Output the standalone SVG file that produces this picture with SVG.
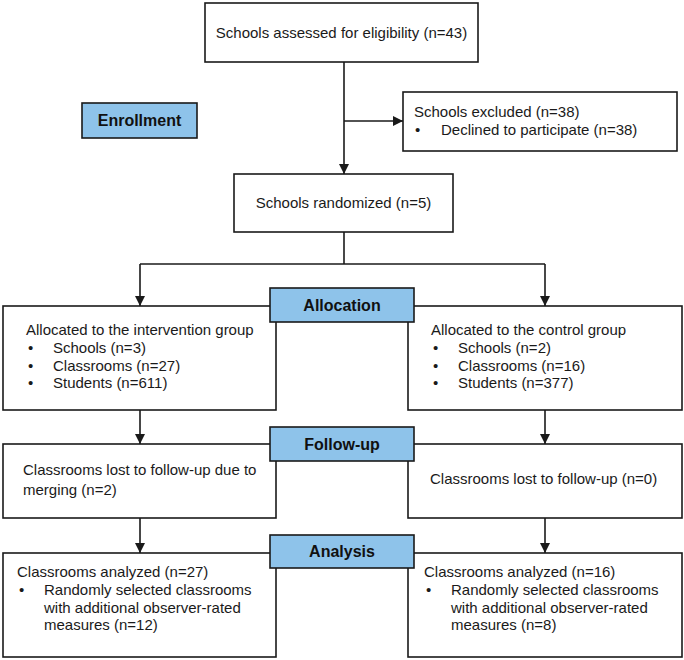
<svg xmlns="http://www.w3.org/2000/svg" width="684" height="660" viewBox="0 0 684 660">
  <style>
    .box { fill: #ffffff; stroke: #1a1a1a; stroke-width: 1.6; }
    .stage { fill: #8ec3ea; stroke: #1a1a1a; stroke-width: 1.6; }
    .t { font-family: "Liberation Sans", Arial, sans-serif; font-size: 15px; fill: #1a1a1a; }
    .st { font-family: "Liberation Sans", Arial, sans-serif; font-size: 16px; font-weight: bold; fill: #111111; text-anchor: middle; }
    .c { text-anchor: middle; }
    .link { fill: none; stroke: #1a1a1a; stroke-width: 1.6; }
  </style>
  <defs>
    <marker id="arrow" viewBox="0 0 10 10" refX="10" refY="5" markerWidth="6.5" markerHeight="6.5" markerUnits="strokeWidth" orient="auto">
      <path d="M0,0 L10,5 L0,10 Z" fill="#1a1a1a"/>
    </marker>
  </defs>

  <rect width="684" height="660" fill="#ffffff"/>

  <!-- connectors -->
  <g id="connectors">
    <line class="link" x1="344" y1="62" x2="344" y2="174" marker-end="url(#arrow)"/>
    <line class="link" x1="344" y1="121" x2="403" y2="121" marker-end="url(#arrow)"/>
    <polyline class="link" points="344,232 344,264"/>
    <polyline class="link" points="140,264 545,264"/>
    <line class="link" x1="140" y1="264" x2="140" y2="306" marker-end="url(#arrow)"/>
    <line class="link" x1="545" y1="264" x2="545" y2="306" marker-end="url(#arrow)"/>
    <line class="link" x1="140" y1="410" x2="140" y2="444" marker-end="url(#arrow)"/>
    <line class="link" x1="545" y1="410" x2="545" y2="444" marker-end="url(#arrow)"/>
    <line class="link" x1="140" y1="518" x2="140" y2="553" marker-end="url(#arrow)"/>
    <line class="link" x1="545" y1="518" x2="545" y2="553" marker-end="url(#arrow)"/>
  </g>

  <!-- enrollment -->
  <g id="assessed">
    <rect class="box" x="205" y="3" width="273" height="59"/>
    <text class="t c" x="341.5" y="38">Schools assessed for eligibility (n=43)</text>
  </g>

  <g id="enrollment-label">
    <rect class="stage" x="82" y="103" width="115" height="35"/>
    <text class="st" x="139.5" y="126">Enrollment</text>
  </g>

  <g id="excluded">
    <rect class="box" x="403" y="92" width="274" height="59"/>
    <text class="t" x="414" y="117">Schools excluded (n=38)</text>
    <text class="t" x="415" y="135">•</text>
    <text class="t" x="441" y="135">Declined to participate (n=38)</text>
  </g>

  <g id="randomized">
    <rect class="box" x="234" y="174" width="219" height="58"/>
    <text class="t c" x="343.5" y="208">Schools randomized (n=5)</text>
  </g>

  <!-- allocation -->
  <g id="intervention">
    <rect class="box" x="3" y="306" width="273" height="104"/>
    <text class="t" x="26" y="335">Allocated to the intervention group</text>
    <text class="t" x="28" y="353">•</text>
    <text class="t" x="53" y="353">Schools (n=3)</text>
    <text class="t" x="28" y="371">•</text>
    <text class="t" x="53" y="371">Classrooms (n=27)</text>
    <text class="t" x="28" y="388">•</text>
    <text class="t" x="53" y="388">Students (n=611)</text>
  </g>

  <g id="control">
    <rect class="box" x="408" y="306" width="274" height="104"/>
    <text class="t" x="431" y="335">Allocated to the control group</text>
    <text class="t" x="433" y="353">•</text>
    <text class="t" x="458" y="353">Schools (n=2)</text>
    <text class="t" x="433" y="371">•</text>
    <text class="t" x="458" y="371">Classrooms (n=16)</text>
    <text class="t" x="433" y="388">•</text>
    <text class="t" x="458" y="388">Students (n=377)</text>
  </g>

  <g id="allocation-label">
    <rect class="stage" x="270" y="288" width="144" height="34"/>
    <text class="st" x="342" y="311">Allocation</text>
  </g>

  <!-- follow-up -->
  <g id="intervention-followup">
    <rect class="box" x="3" y="444" width="273" height="74"/>
    <text class="t" x="23" y="475">Classrooms lost to follow-up due to</text>
    <text class="t" x="23" y="495">merging (n=2)</text>
  </g>

  <g id="control-followup">
    <rect class="box" x="408" y="444" width="274" height="74"/>
    <text class="t" x="430" y="484">Classrooms lost to follow-up (n=0)</text>
  </g>

  <g id="followup-label">
    <rect class="stage" x="270" y="427" width="144" height="34"/>
    <text class="st" x="342" y="450">Follow-up</text>
  </g>

  <!-- analysis -->
  <g id="intervention-analysis">
    <rect class="box" x="3" y="553" width="273" height="104"/>
    <text class="t" x="17" y="577">Classrooms analyzed (n=27)</text>
    <text class="t" x="19" y="595">•</text>
    <text class="t" x="44" y="595">Randomly selected classrooms</text>
    <text class="t" x="44" y="613">with additional observer-rated</text>
    <text class="t" x="44" y="630">measures (n=12)</text>
  </g>

  <g id="control-analysis">
    <rect class="box" x="408" y="553" width="274" height="104"/>
    <text class="t" x="424" y="577">Classrooms analyzed (n=16)</text>
    <text class="t" x="426" y="595">•</text>
    <text class="t" x="451" y="595">Randomly selected classrooms</text>
    <text class="t" x="451" y="613">with additional observer-rated</text>
    <text class="t" x="451" y="630">measures (n=8)</text>
  </g>

  <g id="analysis-label">
    <rect class="stage" x="270" y="535" width="144" height="33"/>
    <text class="st" x="342" y="557">Analysis</text>
  </g>
</svg>
